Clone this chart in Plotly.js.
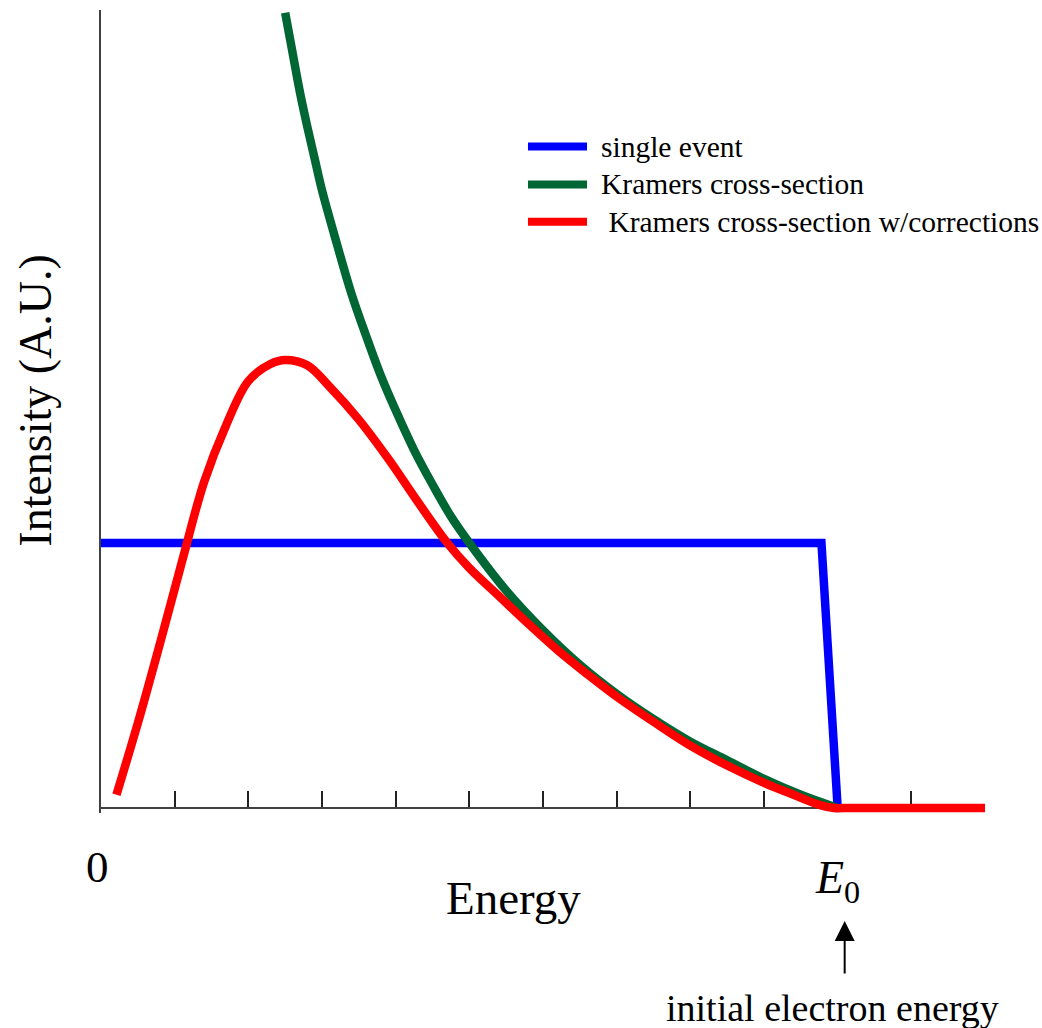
<!DOCTYPE html>
<html>
<head>
<meta charset="utf-8">
<script src="https://cdn.plot.ly/plotly-3.0.1.min.js"></script>
<style>html,body{margin:0;padding:0;background:#fff;}#chart{width:1042px;height:1028px;}</style>
</head>
<body>
<div id="chart"></div>
<script>
// ---- data ----
var seriesNames = ["single event", "Kramers cross-section", " Kramers cross-section w/corrections"];
var seriesColors = ["#0000FF", "#006633", "#FF0000"];

var singleE = [0.00, 9.78, 10.00];
var singleI = [1.00, 1.00, 0.00];

var kramersE = [2.50, 2.60, 2.70, 2.80, 2.90, 3.00, 3.20, 3.40, 3.60, 3.80, 4.00, 4.25, 4.50, 4.75, 5.00, 5.50, 6.00, 6.50, 7.00, 7.50, 8.00, 8.50, 9.00, 9.50, 10.00];
var kramersI = [3.00, 2.85, 2.70, 2.57, 2.45, 2.33, 2.13, 1.94, 1.78, 1.63, 1.50, 1.35, 1.22, 1.10, 1.00, 0.82, 0.67, 0.54, 0.43, 0.335, 0.25, 0.18, 0.11, 0.05, 0.00];

var correctedE = [0.21, 0.50, 0.80, 1.10, 1.40, 1.70, 2.00, 2.30, 2.50, 2.80, 3.10, 3.50, 3.90, 4.30, 4.70, 5.00, 5.40, 5.80, 6.20, 6.60, 7.00, 7.50, 8.00, 8.50, 9.00, 9.40, 9.75, 9.95, 10.15, 10.60, 11.00, 11.50, 12.00];
var correctedI = [0.05, 0.32, 0.62, 0.93, 1.23, 1.445, 1.61, 1.675, 1.69, 1.67, 1.59, 1.465, 1.317, 1.155, 1.00, 0.905, 0.80, 0.695, 0.595, 0.505, 0.42, 0.325, 0.235, 0.16, 0.095, 0.05, 0.012, 0.00, 0.00, 0.00, 0.00, 0.00, 0.00];

var tickValues = [1, 2, 3, 4, 5, 6, 7, 8, 9, 10, 11, 12];
var xTitle = "Energy";
var yTitle = "Intensity (A.U.)";
var zeroLabel = "0";
var e0Label = "<i>E</i><sub>0</sub>";
var e0Value = 10;
var arrowLabel = "initial electron energy";

// ---- chart ----
var serif = "'Liberation Serif', 'Times New Roman', serif";

var xs = [singleE, kramersE, correctedE];
var ys = [singleI, kramersI, correctedI];
var traces = xs.map(function (x, i) {
  return {
    x: x, y: ys[i], type: "scatter", mode: "lines", name: seriesNames[i],
    line: {color: seriesColors[i], width: 8.5, shape: i === 0 ? "linear" : "spline", smoothing: 1},
    hoverinfo: "skip", showlegend: false
  };
});

var legendY = [0.830, 0.7827, 0.7364];
var shapes = [];
var annotations = [];
seriesNames.forEach(function (n, i) {
  shapes.push({type: "line", xref: "paper", yref: "paper", x0: 0.4830, x1: 0.5498, y0: legendY[i], y1: legendY[i],
    line: {color: seriesColors[i], width: 8}});
  annotations.push({xref: "paper", yref: "paper", x: 0.5633, y: legendY[i], xanchor: "left", yanchor: "middle",
    text: n.replace(/^ /, "\u00a0"), showarrow: false, font: {family: serif, size: 29.5, color: "#000"}});
});

annotations.push({xref: "paper", yref: "paper", x: 0.4661, y: -0.1059, text: xTitle, showarrow: false,
  xanchor: "center", yanchor: "middle", font: {family: serif, size: 47, color: "#000"}});
annotations.push({xref: "paper", yref: "paper", x: -0.0735, y: 0.5135, text: yTitle, showarrow: false, textangle: -90,
  xanchor: "center", yanchor: "middle", font: {family: serif, size: 46, color: "#000"}});
annotations.push({xref: "paper", yref: "paper", x: -0.0045, y: -0.0672, text: zeroLabel, showarrow: false,
  xanchor: "center", yanchor: "middle", font: {family: serif, size: 45, color: "#000"}});
annotations.push({xref: "x", yref: "paper", x: e0Value, y: -0.085, text: e0Label, showarrow: false,
  xanchor: "center", yanchor: "middle", font: {family: serif, size: 46, color: "#000"}});
annotations.push({xref: "x", yref: "paper", x: e0Value + 0.095, y: -0.1345, text: "", showarrow: true,
  ax: 0, ay: 54, axref: "pixel", ayref: "pixel", arrowhead: 2, arrowsize: 2, arrowwidth: 2, arrowcolor: "#000"});
annotations.push({xref: "paper", yref: "paper", x: 0.828, y: -0.2428, text: arrowLabel, showarrow: false,
  xanchor: "center", yanchor: "middle", font: {family: serif, size: 38, color: "#000"}});

var layout = {
  width: 1042, height: 1028,
  margin: {l: 101, r: 57, t: 10, b: 215, pad: 0},
  paper_bgcolor: "#fff", plot_bgcolor: "#fff",
  showlegend: false,
  xaxis: {range: [0, 12], anchor: "free", position: 0.00623, showline: true, linecolor: "#404040", linewidth: 2,
    ticks: "inside", tickvals: tickValues, ticklen: 16, tickwidth: 2, tickcolor: "#222",
    showticklabels: false, showgrid: false, zeroline: false, layer: "below traces", fixedrange: true},
  yaxis: {range: [-0.0189, 3.01], showline: true, linecolor: "#404040", linewidth: 2, ticks: "",
    showticklabels: false, showgrid: false, zeroline: false, layer: "below traces", fixedrange: true},
  shapes: shapes,
  annotations: annotations
};

Plotly.newPlot("chart", traces, layout, {displayModeBar: false, staticPlot: true});
</script>
</body>
</html>
